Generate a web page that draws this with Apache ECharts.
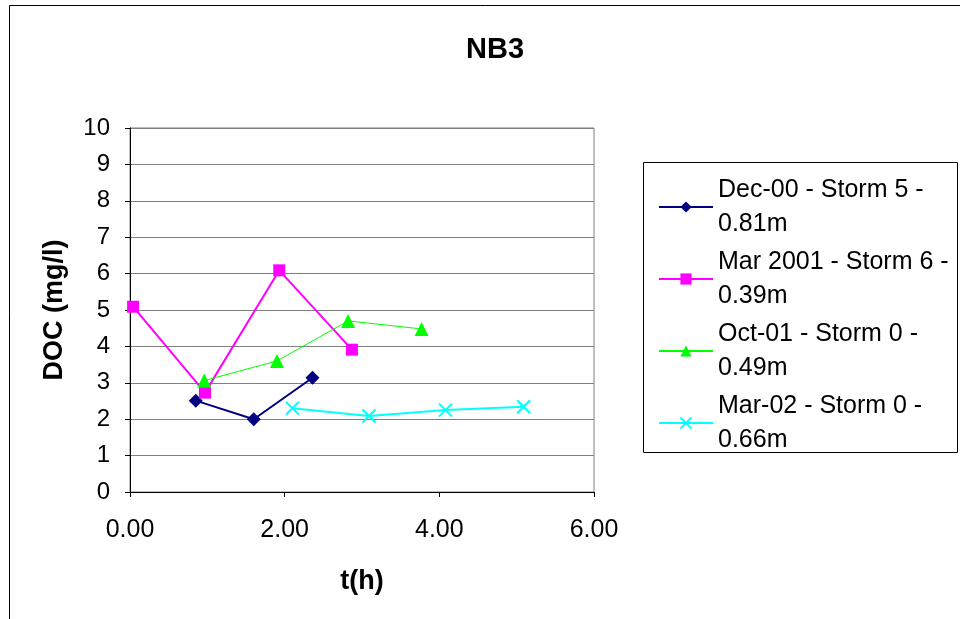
<!DOCTYPE html>
<html>
<head>
<meta charset="utf-8">
<script src="https://cdn.jsdelivr.net/npm/echarts@6/dist/echarts.min.js"></script>
<style>html,body{margin:0;padding:0;background:#fff;}#c{width:960px;height:619px;}</style>
</head>
<body>
<div id="c"></div>
<script>
const seriesNames = ['Dec-00 - Storm 5 - 0.81m', 'Mar 2001 - Storm 6 - 0.39m', 'Oct-01 - Storm 0 - 0.49m', 'Mar-02 - Storm 0 - 0.66m'];
const dec00X = [0.85, 1.60, 2.36];
const dec00Y = [2.51, 2.00, 3.14];
const mar01X = [0.04, 0.97, 1.93, 2.87];
const mar01Y = [5.09, 2.73, 6.09, 3.91];
const oct01X = [0.96, 1.90, 2.82, 3.77];
const oct01Y = [3.06, 3.60, 4.70, 4.48];
const mar02X = [2.10, 3.09, 4.08, 5.09];
const mar02Y = [2.30, 2.09, 2.25, 2.34];
const xTicks = [0, 2, 4, 6];
const yTicks = [0, 1, 2, 3, 4, 5, 6, 7, 8, 9, 10];

const zip = (xs, ys) => xs.map((x, i) => [x, ys[i]]);
const FONT = '"Liberation Sans", Arial, sans-serif';
const LH = 34;

const chart = echarts.init(document.getElementById('c'), null, {renderer: 'canvas'});
chart.setOption({
  animation: false,
  backgroundColor: '#fff',
  textStyle: {fontFamily: FONT, color: '#000'},
  title: {
    text: 'NB3', left: 490, top: 30, textAlign: 'center',
    textStyle: {fontFamily: FONT, fontSize: 29, fontWeight: 'bold', color: '#000'}
  },
  graphic: [
    {type: 'rect', shape: {x: 9.5, y: 5.5, width: 1000, height: 700}, style: {fill: 'none', stroke: '#000', lineWidth: 1}, z: -10},
    {type: 'rect', shape: {x: 643.5, y: 162.5, width: 314, height: 290}, style: {fill: '#fff', stroke: '#000', lineWidth: 1}, z: -5}
  ],
  legend: {
    orient: 'vertical', left: 653, top: 151,
    itemWidth: 54, itemHeight: 14, itemGap: -30,
    data: seriesNames,
    formatter: n => n.replace(/ - (\S+)$/, ' -\n$1'),
    textStyle: {fontFamily: FONT, fontSize: 25, color: '#000', lineHeight: LH, padding: [LH, 0, 0, 0]}
  },
  grid: {left: 130, right: 366, top: 128, bottom: 127, show: true, borderColor: '#808080', borderWidth: 1, containLabel: false},
  xAxis: {
    type: 'value', min: xTicks[0], max: xTicks[xTicks.length - 1], interval: 2,
    name: 't(h)', nameLocation: 'middle', nameGap: 76,
    nameTextStyle: {fontFamily: FONT, fontSize: 27, fontWeight: 'bold', color: '#000'},
    axisLine: {show: true, lineStyle: {color: '#000', width: 1}},
    axisTick: {show: true, length: 5, lineStyle: {color: '#000'}},
    splitLine: {show: false},
    axisLabel: {fontFamily: FONT, fontSize: 25, color: '#000', margin: 26, formatter: v => v.toFixed(2)}
  },
  yAxis: {
    type: 'value', min: yTicks[0], max: yTicks[yTicks.length - 1], interval: 1,
    name: 'DOC (mg/l)', nameLocation: 'middle', nameGap: 62,
    nameTextStyle: {fontFamily: FONT, fontSize: 27, fontWeight: 'bold', color: '#000'},
    axisLine: {show: true, lineStyle: {color: '#000', width: 1}},
    axisTick: {show: true, length: 5, lineStyle: {color: '#000'}},
    splitLine: {show: true, lineStyle: {color: '#808080', width: 1}},
    axisLabel: {fontFamily: FONT, fontSize: 24, color: '#000', margin: 20}
  },
  series: [
    {name: seriesNames[0], type: 'line', data: zip(dec00X, dec00Y), symbol: 'diamond', symbolSize: 14,
     lineStyle: {color: '#000080', width: 2}, itemStyle: {color: '#000080'}},
    {name: seriesNames[1], type: 'line', data: zip(mar01X, mar01Y), symbol: 'rect', symbolSize: 12,
     lineStyle: {color: '#FF00FF', width: 2}, itemStyle: {color: '#FF00FF'}},
    {name: seriesNames[2], type: 'line', data: zip(oct01X, oct01Y), symbol: 'triangle', symbolSize: 14,
     lineStyle: {color: '#00FF00', width: 1}, itemStyle: {color: '#00FF00'}},
    {name: seriesNames[3], type: 'line', data: zip(mar02X, mar02Y), symbol: 'path://M0,0L10,10M10,0L0,10', symbolSize: 13,
     lineStyle: {color: '#00FFFF', width: 2}, itemStyle: {color: 'rgba(0,0,0,0)', borderColor: '#00FFFF', borderWidth: 2}}
  ]
});
</script>
</body>
</html>
